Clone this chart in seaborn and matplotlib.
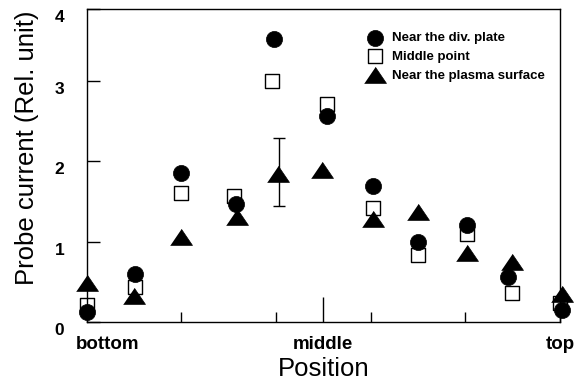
import matplotlib
matplotlib.use("Agg")
import matplotlib.pyplot as plt
import matplotlib.transforms as mtransforms
import seaborn as sns

sns.set_style("white")
plt.rcParams['font.family'] = ['Liberation Sans', 'DejaVu Sans']
for k in ['text.color', 'axes.labelcolor', 'xtick.color', 'ytick.color', 'axes.edgecolor']:
    plt.rcParams[k] = 'black'

# Data
x_div = [0, 1.02, 2.0, 3.16, 3.96, 5.07, 6.04, 6.99, 8.03, 8.91, 10.05]
y_div = [0.12, 0.59, 1.86, 1.47, 3.52, 2.57, 1.69, 1.00, 1.21, 0.56, 0.15]

x_mid = [0, 1.02, 2.0, 3.12, 3.92, 5.07, 6.04, 6.99, 8.03, 8.98, 10.0]
y_mid = [0.21, 0.43, 1.61, 1.57, 3.00, 2.71, 1.42, 0.83, 1.10, 0.36, 0.23]

x_pl = [0, 1.0, 2.0, 3.18, 4.05, 4.98, 6.04, 7.0, 8.03, 8.98, 10.05]
y_pl = [0.48, 0.32, 1.06, 1.30, 1.84, 1.89, 1.28, 1.37, 0.86, 0.75, 0.34]

err_x = 4.07
err_y = 1.84
err_lo = 0.40
err_hi = 0.45

xtick_pos = [0, 2, 4, 5, 6, 8, 10]
xtick_labels = ["bottom", "", "", "middle", "", "", "top"]
y_top = 3.9
ytick_pos = [0, 1, 2, 3, y_top]
ytick_labels = ["0", "1", "2", "3", "4"]

fig = plt.figure(figsize=(5.83, 3.83), dpi=100)
ax = fig.add_axes([0.1487, 0.160, 0.8118, 0.8165])

tri = [(-1.0, -0.72), (1.0, -0.72), (0.0, 0.75)]

ax.errorbar([err_x], [err_y], yerr=[[err_lo], [err_hi]], fmt='none',
            ecolor='black', elinewidth=1.0, capsize=4.3, capthick=1.0, zorder=1)
sns.scatterplot(x=x_div, y=y_div, ax=ax, marker='o', s=135, color='black',
                edgecolor='black', linewidth=0.5, label='Near the div. plate',
                zorder=3, clip_on=False)
sns.scatterplot(x=x_mid, y=y_mid, ax=ax, marker='s', s=100, facecolor='white',
                edgecolor='black', linewidth=1.0, label='Middle point',
                zorder=2, clip_on=False)
sns.scatterplot(x=x_pl, y=y_pl, ax=ax, marker=tri, s=250, color='black',
                edgecolor='black', linewidth=0.5, label='Near the plasma surface',
                zorder=4, clip_on=False)

ax.set_xlim(0, 10)
ax.set_ylim(0, y_top)
ax.set_xticks(xtick_pos)
ax.set_xticklabels(xtick_labels, fontsize=13.5, fontweight='bold')
ax.set_yticks(ytick_pos)
ax.set_yticklabels(ytick_labels, fontsize=12.5, fontweight='bold')

ax.tick_params(axis='x', direction='in', length=7.2, width=1.0, pad=10,
               bottom=True, top=False)
ax.tick_params(axis='y', direction='in', length=9, width=1.0, pad=16,
               left=True, right=False)
ax.xaxis.get_major_ticks()[3].tick1line.set_markersize(18)

# label offsets as in the reference
labs = ax.get_xticklabels()
labs[0].set_transform(labs[0].get_transform() + mtransforms.ScaledTranslation(0.21, 0, fig.dpi_scale_trans))
for lab in ax.get_yticklabels():
    lab.set_transform(lab.get_transform() + mtransforms.ScaledTranslation(0, -0.07, fig.dpi_scale_trans))

for s in ax.spines.values():
    s.set_color('black')
    s.set_linewidth(1.0)

ax.set_xlabel("Position", fontsize=18.5, labelpad=3)
ax.set_ylabel("Probe current (Rel. unit)", fontsize=18.5)
ax.yaxis.set_label_coords(-0.101, 0.555)

leg = ax.legend(loc='upper left', frameon=False,
                prop={'size': 9.5, 'weight': 'bold'},
                handletextpad=0.3, labelspacing=0.5, borderpad=0,
                borderaxespad=0, bbox_to_anchor=(0.582, 0.927))

fig.savefig("out.png", dpi=100)
